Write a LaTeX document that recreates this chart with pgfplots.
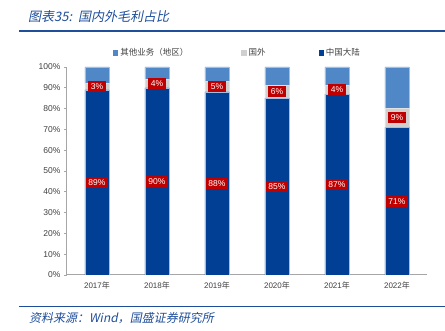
\documentclass[border=0pt]{standalone}
\usepackage{fontspec}
\setmainfont{Liberation Sans}
\newfontfamily\cjk{Noto Sans CJK SC}
\newfontfamily\cjkti[FakeSlant=0.2]{Noto Sans CJK SC}
\usepackage{pgfplots}
\pgfplotsset{compat=1.18}
\definecolor{mainland}{RGB}{0,63,148}
\definecolor{foreign}{RGB}{208,208,208}
\definecolor{other}{RGB}{80,135,199}
\definecolor{labelred}{RGB}{192,0,0}
\definecolor{titleblue}{RGB}{31,78,154}
\definecolor{axgray}{RGB}{166,166,166}
\definecolor{txtgray}{RGB}{64,64,64}
\begin{document}
\begin{tikzpicture}
\path[use as bounding box] (0pt,0pt) rectangle (445pt,331pt);
\node[anchor=west, text=titleblue, inner sep=0pt, font=\cjkti\fontsize{13}{15}\selectfont] at (28pt,314pt) {图表35:\ \ 国内外毛利占比};
\draw[titleblue, line width=1.5pt] (19pt,300pt) -- (445pt,300pt);
\draw[titleblue, line width=1pt] (19pt,24pt) -- (445pt,24pt);
\node[anchor=west, text=titleblue, inner sep=0pt, font=\cjkti\fontsize{12}{14}\selectfont] at (29pt,13pt) {资料来源：Wind，国盛证券研究所};
\begin{axis}[
  at={(67pt,56pt)}, anchor=south west,
  width=360pt, height=208pt, scale only axis,
  ybar stacked, bar width=24pt,
  xmin=-0.5, xmax=5.5, ymin=0, ymax=100,
  axis x line*=bottom, axis y line*=left,
  axis line style={axgray, line width=1pt, -},
  xtick={0,1,2,3,4,5},
  xticklabels={2017{\cjk 年},2018{\cjk 年},2019{\cjk 年},2020{\cjk 年},2021{\cjk 年},2022{\cjk 年}},
  xtick style={draw=none},
  minor xtick={-0.5,0.5,1.5,2.5,3.5,4.5,5.5},
  minor x tick style={axgray, line width=0.6pt},
  minor tick length=3pt,
  ytick={0,10,...,100},
  yticklabels={0\%,10\%,20\%,30\%,40\%,50\%,60\%,70\%,80\%,90\%,100\%},
  ytick style={axgray, line width=0.6pt},
  major tick length=3pt,
  tick align=outside,
  x tick label style={font=\fontsize{8}{9}\selectfont, text=txtgray},
  y tick label style={font=\fontsize{8.5}{10}\selectfont, text=txtgray},
  legend style={at={(0.128,1.067)}, anchor=west, draw=none, fill=none, inner sep=0pt,
    legend columns=3, font=\cjk\fontsize{8.5}{10}\selectfont, text=txtgray,
    /tikz/every even column/.append style={column sep=51pt}},
  legend cell align=left,
  reverse legend,
  legend image code/.code={\fill[#1, draw=none] (0pt,-2.6pt) rectangle (5.2pt,2.6pt);},
]
\addplot[fill=mainland, draw={rgb,255:red,160;green,190;blue,230}, line width=0.5pt] coordinates {(0,89) (1,90) (2,88) (3,85) (4,87) (5,71)};
\addplot[fill=foreign, draw={rgb,255:red,225;green,225;blue,225}, line width=0.5pt] coordinates {(0,3) (1,4) (2,5) (3,6) (4,4) (5,9)};
\addplot[fill=other, draw={rgb,255:red,160;green,190;blue,230}, line width=0.5pt] coordinates {(0,8) (1,6) (2,7) (3,9) (4,9) (5,20)};
\legend{中国大陆,国外,其他业务（地区）}
\end{axis}
\begin{axis}[
  at={(67pt,56pt)}, anchor=south west,
  width=360pt, height=208pt, scale only axis,
  xmin=-0.5, xmax=5.5, ymin=0, ymax=100, hide axis,
]
\addplot[draw=none, nodes near coords, point meta=explicit symbolic,
  every node near coord/.style={anchor=center, fill=labelred, text=white, inner xsep=2.5pt, inner ysep=2.5pt, font=\fontsize{8.5}{9}\selectfont}]
  coordinates {(0,44.5) [89\%] (1,45) [90\%] (2,44) [88\%] (3,42.5) [85\%] (4,43.5) [87\%] (5,35.5) [71\%]
  (0,90.5) [3\%] (1,92) [4\%] (2,90.5) [5\%] (3,88) [6\%] (4,89) [4\%] (5,75.5) [9\%]};
\end{axis}
\end{tikzpicture}
\end{document}
